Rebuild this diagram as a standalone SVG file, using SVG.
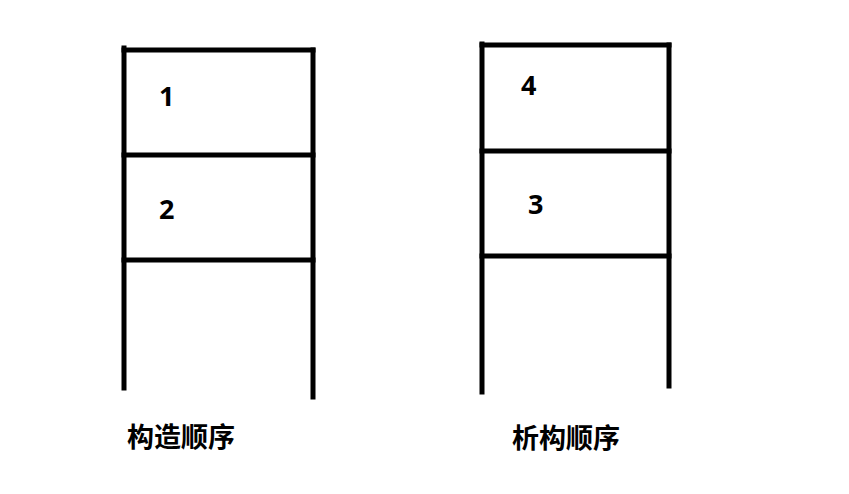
<svg xmlns="http://www.w3.org/2000/svg" width="849" height="494" viewBox="0 0 849 494">
<style>
.ln{stroke:#000;stroke-width:5;fill:none;stroke-linecap:square}
.num{font-family:"Noto Sans","Liberation Sans",sans-serif;font-weight:bold;font-size:27px;fill:#000}
.lbl{font-family:"Noto Sans CJK SC","Noto Sans",sans-serif;font-weight:bold;font-size:27px;fill:#000}
</style>
<rect width="849" height="494" fill="#fff"/>
<g id="construct">
<g id="frame-left">
<path class="ln" d="M124,48 V388"/>
<path class="ln" d="M313,50 V397"/>
<path class="ln" d="M124,50 H313"/>
<path class="ln" d="M124,155 H313"/>
<path class="ln" d="M124,260 H313"/>
</g>
<g id="n1"><text class="num" x="159" y="106">1</text></g>
<g id="n2"><text class="num" x="159" y="219">2</text></g>
<g id="lbl-left"><text class="lbl" x="127" y="447">构造顺序</text></g>
</g>
<g id="destruct">
<g id="frame-right">
<path class="ln" d="M482,44 V392"/>
<path class="ln" d="M669,45 V386"/>
<path class="ln" d="M482,45 H669"/>
<path class="ln" d="M482,151 H669"/>
<path class="ln" d="M482,256 H669"/>
</g>
<g id="n4"><text class="num" x="521" y="95">4</text></g>
<g id="n3"><text class="num" x="528" y="214">3</text></g>
<g id="lbl-right"><text class="lbl" x="512" y="448">析构顺序</text></g>
</g>
</svg>
